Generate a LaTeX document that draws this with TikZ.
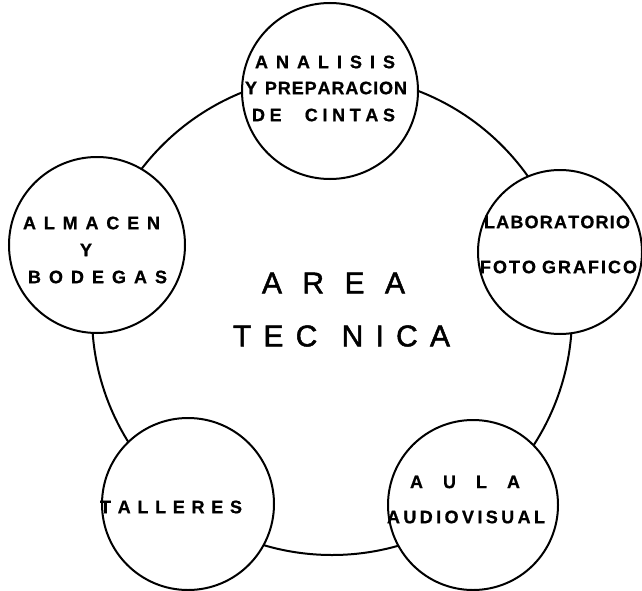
\documentclass[tikz,border=0pt]{standalone}
\usepackage{fontspec}
\setmainfont{Liberation Sans}
\newfontfamily\heavyfont{Liberation Sans Bold}[FakeBold=0.8]
\newfontfamily\medfont{Liberation Sans}[FakeBold=1.6]
\newcommand\hgap{\hfill}
\begin{document}
\begin{tikzpicture}[x=1pt,y=-1pt,
  ring/.style={circle,draw,line width=2pt,fill=white,inner sep=0pt,minimum size=#1},
  lbl/.style={inner sep=0pt,font=\fontsize{18}{18}\heavyfont},
  bigtxt/.style={inner sep=0pt,font=\fontsize{30}{30}\medfont}]
\useasboundingbox (0,0) rectangle (642,591);
% main area
\node[circle,draw,line width=2pt,inner sep=0pt,minimum size=480pt] (area) at (332,315) {};
% satellite circles
\node[ring=176pt] (cintas) at (330,91) {};
\node[ring=176pt] (almacen) at (97,245) {};
\node[ring=164pt] (lab) at (560,252) {};
\node[ring=172pt] (talleres) at (188,504) {};
\node[ring=170pt] (aula) at (473,505) {};
% labels top
\node[lbl] (c1) at (325,62) {\makebox[140pt][s]{A\hgap N\hgap A\hgap L\hgap I\hgap S\hgap I\hgap S}};
\node[lbl] (c2) at (326,88) {\makebox[162pt][s]{Y\hspace{7pt}\hgap P\hgap R\hgap E\hgap P\hgap A\hgap R\hgap A\hgap C\hgap I\hgap O\hgap N}};
\node[lbl] (c3) at (323.5,115) {\makebox[143pt][s]{D\hgap E\hgap\hgap\hgap\hgap\hgap C\hgap I\hgap N\hgap T\hgap A\hgap S}};
% left
\node[lbl] (a1) at (91.5,223) {\makebox[137pt][s]{A\hgap L\hgap M\hgap A\hgap C\hgap E\hgap N}};
\node[lbl] (a2) at (86,250) {Y};
\node[lbl] (a3) at (97.5,277) {\makebox[139pt][s]{B\hgap O\hgap D\hgap E\hgap G\hgap A\hgap S}};
% right
\node[lbl] (l1) at (557,222) {\makebox[146pt][s]{L\hgap A\hgap B\hgap O\hgap R\hgap A\hgap T\hgap O\hgap R\hgap I\hgap O}};
\node[lbl] (l2) at (558.5,267) {\makebox[157pt][s]{F\hgap O\hgap T\hgap O\hgap\hgap\hgap G\hgap R\hgap A\hgap F\hgap I\hgap C\hgap O}};
% bottom left
\node[lbl] (t1) at (171,507) {\makebox[142pt][s]{T\hgap A\hgap L\hgap L\hgap E\hgap R\hgap E\hgap S}};
% bottom right
\node[lbl] (u1) at (465,482) {\makebox[110pt][s]{A\hgap U\hgap L\hgap A}};
\node[lbl] (u2) at (466,517) {\makebox[158pt][s]{A\hgap U\hgap D\hgap I\hgap O\hgap V\hgap I\hgap S\hgap U\hgap A\hgap L}};
% centre
\node[bigtxt] (m1) at (333.5,283) {\makebox[143pt][s]{A\hgap R\hgap E\hgap A}};
\node[bigtxt] (m2) at (341.5,336) {\makebox[217pt][s]{T\hgap E\hgap C\hgap\hgap N\hgap I\hgap C\hgap A}};
\end{tikzpicture}
\end{document}
